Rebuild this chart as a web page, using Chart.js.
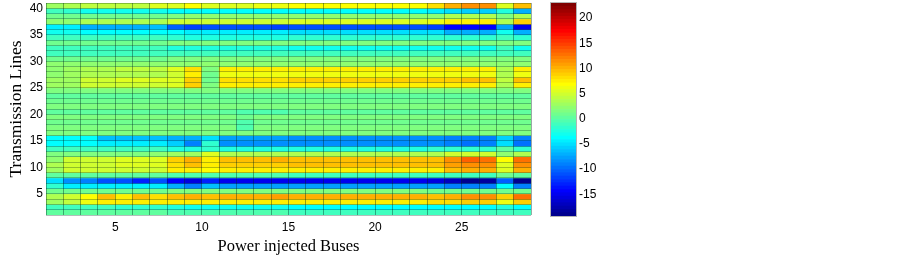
<!DOCTYPE html>
<html>
<head>
<meta charset="utf-8">
<script src="https://cdn.jsdelivr.net/npm/chart.js@4"></script>
<style>
html, body { margin: 0; background: #fff; }
#wrap { position: relative; width: 903px; height: 257px; overflow: hidden; }
canvas { position: absolute; top: 0; left: 0; filter: blur(0.4px); }
</style>
</head>
<body>
<div id="wrap">
<canvas id="heat" width="560" height="257"></canvas>
<canvas id="bar" width="343" height="257" style="left:540px"></canvas>
</div>
<script>
const buses = [1,2,3,4,5,6,7,8,9,10,11,12,13,14,15,16,17,18,19,20,21,22,23,24,25,26,27,28];
const lines = [40,39,38,37,36,35,34,33,32,31,30,29,28,27,26,25,24,23,22,21,20,19,18,17,16,15,14,13,12,11,10,9,8,7,6,5,4,3,2,1];
const busEdges = [1,2,3,4,5,6,7,8,9,10,11,12,13,14,15,16,17,18,19,20,21,22,23,24,25,26,27,28,29];
const lineEdges = [1,2,3,4,5,6,7,8,9,10,11,12,13,14,15,16,17,18,19,20,21,22,23,24,25,26,27,28,29,30,31,32,33,34,35,36,37,38,39,40,41];
const busTicks = [5,10,15,20,25];
const lineTicks = [5,10,15,20,25,30,35,40];
const barTicks = [-15,-10,-5,0,5,10,15,20];
const colorLimits = [-19.5, 22.8];

// one row per transmission line, top of the picture first, one value per bus
const cellValues = [
  [2.8,3,3.8,3.8,4,4,5,5,6.8,5,5,5,6,6, 6.5,6.5,6.5,6.5,6.5,6.5,6.5,6.5, 8,10,11,11,5,9],
  [-1.5,-2,-3,-3,-3,-3,-3,-3.8,-4,-4,-4,-4,-4,-4, -4,-4,-4,-4,-4,-4,-4,-4, -4.5,-5.5,-6,-6,-2.5,-7],
  [0.8,0.8,0.8,0.8,0.8,0.8,0.8,1.5,1.8,1.8,1.8,1.8,1.8,1.8, 2,2,2,2,2,2,2,2, 2,3,3,3,1.5,3],
  [2.3,2.3,3.3,3.3,3.3,3.3,3.3,4.5,4.5,4.5,4.5,4.5,4.5,4.5, 5.5,5.5,5.5,5.5,5.5,5.5,5.5,5.5, 6,7,7.5,7.5,3.5,8.5],
  [-4.5,-4.5,-7.5,-7.5,-7,-7,-6.5,-10.5,-12,-11,-11,-11,-11,-12, -11.5,-11.5,-11.5,-11.5,-11.5,-11.5,-11.5,-11.5, -12,-14.5,-14.5,-14.5,-8,-15],
  [-3,-3,-4,-4,-4,-4,-4,-4,-4.5,-4.5,-4.5,-4.5,-4.5,-4.5, -5,-5,-5,-5,-5,-5,-5,-5, -5.5,-7,-7,-7,-3.5,-7.5],
  [-1.5,-1.5,-1.5,-1.5,-1.5,-1.5,-1.5,-2,-2.5,-2.5,-2.5,-2.5,-2.5,-2.5, -2,-2,-2,-2,-2,-2,-2,-2, -2,-2,-2,-2,-1,-2],
  [0.8,0.8,0.8,0.8,0.8,0.8,0.8,1,1,1,1,1,1,1, 1,1,1,1,1,1,1,1, 1,1,1,1,1,1],
  [-1.5,-1.5,-1.5,-1.5,-1.5,-1.5,-1.5,-2.5,-2.5,-2.5,-2.5,-2.5,-2.5,-2.5, -3,-3,-3,-3,-3,-3,-3,-3, -3,-3,-3,-3,-1,-3],
  [-1,-1,-1,-1,-1,-1,-1,-1.5,-1.5,-1.5,-1.5,-1.5,-1.5,-1.5, -1.5,-1.5,-1.5,-1.5,-1.5,-1.5,-1.5,-1.5, -1.5,-1.5,-1.5,-1.5,-1,-1.5],
  [0.8,0.8,0.8,0.8,0.8,0.8,0.8,1,1,1,1,1,1,1, 1,1,1,1,1,1,1,1, 1,1,1,1,1,1],
  [1.8,1.8,1.8,1.8,1.8,1.8,1.8,2,2,2,2,2,2,2, 2,2,2,2,2,2,2,2, 2,2,2,2,1.8,2],
  [2.3,2.5,3.3,3.3,3.8,3.8,3.8,5,8,1.5,7.5,7.5,7.5,7.5, 7.5,7.5,7.5,7.5,7.5,7.5,7.5,7.5, 7.5,7.5,7.5,7.5,3.5,7.5],
  [2,2.5,3,3,3.5,3.5,3.5,4.5,7.5,0.8,6,6,6,6, 6,6,6,6,6,6,6,6, 6,6,6,6,3,6],
  [2.8,2.8,4.3,4.3,5,5,5,5.5,8.5,0.8,8,8,8,8, 8.5,8.5,8.5,8.5,8.5,8.5,8.5,8.5, 8.5,8.5,9,9,4,9.5],
  [2.5,2.5,4.5,4.5,4.5,4.5,4.5,5.5,8.5,1,7.5,7.5,7.5,7.5, 7.5,7.5,7.5,7.5,7.5,7.5,7.5,7.5, 7.5,7.5,7.5,7.5,3.5,7.5],
  [1.2,1.2,1.2,1.2,1.2,1.2,1.2,1.2,1.2,1.2,1.2,1.2,1.2,1.2, 1.2,1.2,1.2,1.2,1.2,1.2,1.2,1.2, 1.2,1.2,1.2,1.2,1,1.2],
  [0,0,0,0,0,0,0,0,0,0,0,0,0,0, 0,0,0,0,0,0,0,0, 0,0,0,0,0,0],
  [0.8,0.8,0.8,0.8,0.8,0.8,0.8,0.8,0.8,0.8,0.8,0.8,0.8,0.8, 0.8,0.8,0.8,0.8,0.8,0.8,0.8,0.8, 0.8,0.8,0.8,0.8,0.8,0.8],
  [1,1,1,1,1,1,1,1,1,1,1,1,1,1, 1,1,1,1,1,1,1,1, 1,1,1,1,1,1],
  [0.3,0.3,0.3,0.3,0.3,0.3,0.3,0.3,0.3,0.3,0.3,-0.5,-0.5,-0.5, 0,0,0,0,0,0,0,0, 0,0,0,0,0.3,0],
  [1,1,1,1,1,1,1,1,1,1,1,0.5,1,1, 1,1,1,1,1,1,1,1, 1,1,1,1,1,1],
  [0.8,0.8,0.8,0.8,0.8,0.8,0.8,0.8,0.8,0.8,0.8,-0.5,0.8,0.8, 0.8,0.8,0.8,0.8,0.8,0.8,0.8,0.8, 0.8,0.8,0.8,0.8,0.8,0.8],
  [1.5,1.5,1.5,1.5,1.5,1.5,1.5,1.5,1.5,1.5,1.5,-0.5,1.5,1.5, 1.5,1.5,1.5,1.5,1.5,1.5,1.5,1.5, 1.5,1.5,1.5,1.5,1.5,1.5],
  [1.5,1.5,1.5,1.5,1.5,1.5,1.5,1.5,1.5,1.5,1.5,1,1.5,1.5, 1.5,1.5,1.5,1.5,1.5,1.5,1.5,1.5, 1.5,1.5,1.5,1.5,1.5,1.5],
  [-3.8,-3.8,-3.8,-6.5,-6.5,-6.5,-6.5,-7.5,-7.5,-5.5,-8,-8,-8,-8, -8.5,-8.5,-8.5,-8.5,-8.5,-8.5,-8.5,-8.5, -8.5,-9,-9.5,-9,-6,-9.5],
  [-4,-4,-4,-4.5,-4.5,-4.5,-4.5,-6,-9,-2,-8.5,-8.5,-8.5,-8.5, -8.5,-8.5,-8.5,-8.5,-8.5,-8.5,-8.5,-8.5, -8.5,-9,-10,-9.5,-5,-10],
  [-1.5,-1.5,-1.5,-1.5,-1.5,-1.5,-1.5,-2.5,-2.5,-2,-2.5,-2.5,-2.5,-2.5, -2.5,-2.5,-2.5,-2.5,-2.5,-2.5,-2.5,-2.5, -2,-2,-2,-2,0,-2],
  [1,1.5,1.5,1.5,1.5,1.5,2,2.5,2.5,5.5,3,3,3,3, 3.5,3.5,3.5,3.5,3.5,3.5,3.5,3.5, 3.5,4.8,4.8,4.8,2,3.5],
  [2,4.3,4.3,4.3,5,5,5,8.5,10,7.5,9.5,9.5,9.5,10, 9.5,9.5,9.5,9.5,9.5,9.5,9.5,9.5, 9,11.5,13,12.5,6.8,12.5],
  [3,4.3,4.3,4.3,5.5,5.5,5.5,8,9,7.5,8.5,8.5,8.5,8.5, 9,9,9,9,9,9,9,9, 9,10.5,11,11,5.5,11],
  [2.5,4.3,4.3,4.3,4.8,4.8,4.8,7,7.5,6.5,7,7,7,7, 7.5,7.5,7.5,7.5,7.5,7.5,7.5,7.5, 7.5,9,10,10,5,10],
  [0,0,0,0,0,0,0,-0.5,-0.5,-0.5,-0.5,-0.5,-0.5,-0.5, -1,-1,-1,-1,-1,-1,-1,-1, -1,-1,-1,-1,0.5,0],
  [-5,-8.5,-9.5,-11.5,-11.5,-13,-11.5,-14.5,-16,-13,-15,-15.5,-15.5,-15.5, -15.5,-15.5,-15.5,-15.5,-15.5,-15.5,-15.5,-15.5, -16,-17,-19,-18.5,-10.5,-19],
  [-2,-4.5,-4.5,-4.5,-4.5,-4.5,-4.5,-7,-9,-6.5,-8,-8,-8,-8, -8,-8,-8,-8,-8,-8,-8,-8, -8,-9,-9,-9,-4,-9],
  [0.8,0.8,0.8,0.8,0.8,0.8,0.8,1,1,1,1,1,1,1, 1,1,1,1,1,1,1,1, 0.8,0.8,0.8,0.8,0.8,0.8],
  [3.5,4.3,6.5,9,7.5,9,8,9,10,9.5,10,10,10,10.5, 10,10,10,10,10,10,10,10, 9.5,10,11.5,11.5,8.5,12.5],
  [2.8,3.8,6,7,7,7,7,7.5,7.5,7.5,7.5,7.5,7.5,7.5, 7.5,7.5,7.5,7.5,7.5,7.5,7.5,7.5, 8,8,8.5,8.5,6,8.5],
  [-1.5,-1.5,-1.5,-1.5,-2,-2,-2,-2.5,-3.5,-3,-3,-3,-3,-3, -3.8,-3.8,-3.8,-3.8,-3.8,-3.8,-3.8,-3.8, -3.8,-4,-4,-4,-2.5,-3.8],
  [-0.3,-0.3,-0.3,-0.3,-0.3,-0.3,-0.3,-0.5,-0.5,-0.5,-0.5,-0.5,-0.5,-0.5, -1,-1,-1,-1,-1,-1,-1,-1, -1,-1,-1,-1,-1,-1]
];

const jet = [
  '#00008f','#00009f','#0000af','#0000bf','#0000cf','#0000df','#0000ef','#0000ff',
  '#0010ff','#0020ff','#0030ff','#0040ff','#0050ff','#0060ff','#0070ff','#0080ff',
  '#008fff','#009fff','#00afff','#00bfff','#00cfff','#00dfff','#00efff','#00ffff',
  '#10ffef','#20ffdf','#30ffcf','#40ffbf','#50ffaf','#60ff9f','#70ff8f','#80ff80',
  '#8fff70','#9fff60','#afff50','#bfff40','#cfff30','#dfff20','#efff10','#ffff00',
  '#ffef00','#ffdf00','#ffcf00','#ffbf00','#ffaf00','#ff9f00','#ff8f00','#ff8000',
  '#ff7000','#ff6000','#ff5000','#ff4000','#ff3000','#ff2000','#ff1000','#ff0000',
  '#ef0000','#df0000','#cf0000','#bf0000','#af0000','#9f0000','#8f0000','#800000'
];

const labelFont = { family: '"Liberation Sans", Arial, sans-serif', size: 12 };
const titleFont = { family: '"Liberation Serif", "Times New Roman", serif', size: 16.5 };
const yTitleFont = { family: '"Liberation Serif", "Times New Roman", serif', size: 17.5 };

function colorFor(v) {
    const span = colorLimits[1] - colorLimits[0];
    const i = Math.floor((v - colorLimits[0]) / span * jet.length);
    return jet[Math.max(0, Math.min(jet.length - 1, i))];
}

const heatDatasets = lines.map((line, r) => ({
    data: buses.map(bus => ({ x: bus + 0.5, y: [line, line + 1] })),
    backgroundColor: buses.map((bus, c) => colorFor(cellValues[r][c])),
    borderWidth: 0,
    barPercentage: 1,
    categoryPercentage: 1,
    grouped: false
}));

new Chart(document.getElementById('heat'), {
    type: 'bar',
    data: { datasets: heatDatasets },
    options: {
        responsive: false,
        animation: false,
        layout: { padding: { top: 3, right: 29, left: 0, bottom: 0 } },
        plugins: { legend: { display: false }, tooltip: { enabled: false } },
        scales: {
            x: {
                type: 'linear',
                min: 1,
                max: 29,
                offset: false,
                afterBuildTicks: s => { s.ticks = busEdges.map(v => ({ value: v })); },
                afterFit: s => { s.height = 42; s.paddingLeft = 0; s.paddingRight = 0; },
                grid: { offset: false, z: 1, color: 'rgba(0,40,30,0.4)', drawTicks: false },
                border: { display: false },
                ticks: {
                    autoSkip: false,
                    maxRotation: 0,
                    padding: 5,
                    color: '#000',
                    font: labelFont,
                    callback: v => busTicks.includes(v) ? String(v) : ''
                },
                title: { display: true, text: 'Power injected Buses', color: '#000', font: titleFont, padding: { top: 5, bottom: 0 } }
            },
            y: {
                type: 'linear',
                min: 1,
                max: 41,
                afterBuildTicks: s => { s.ticks = lineEdges.map(v => ({ value: v })); },
                afterFit: s => { s.width = 46; s.paddingTop = 0; s.paddingBottom = 0; },
                grid: { z: 1, color: 'rgba(0,40,30,0.3)', drawTicks: false },
                border: { display: false },
                ticks: {
                    autoSkip: false,
                    padding: 3,
                    color: '#000',
                    font: labelFont,
                    callback: v => lineTicks.includes(v) ? String(v) : ''
                },
                title: { display: true, text: 'Transmission Lines', color: '#000', font: yTitleFont, padding: { top: 6, bottom: 0 } }
            }
        }
    }
});

// colour bar, one floating bar per palette step
const step = (colorLimits[1] - colorLimits[0]) / jet.length;
const barDatasets = jet.map((c, i) => ({
    data: [[colorLimits[0] + i * step, colorLimits[0] + (i + 1) * step]],
    backgroundColor: c,
    borderWidth: 0,
    barPercentage: 1,
    categoryPercentage: 1,
    grouped: false
}));

new Chart(document.getElementById('bar'), {
    type: 'bar',
    data: { labels: [''], datasets: barDatasets },
    options: {
        responsive: false,
        animation: false,
        layout: { padding: { top: 3, left: 11, right: 0, bottom: 41 } },
        plugins: { legend: { display: false }, tooltip: { enabled: false } },
        scales: {
            x: { display: false, grid: { display: false } },
            y: {
                position: 'right',
                min: colorLimits[0],
                max: colorLimits[1],
                afterBuildTicks: s => { s.ticks = barTicks.map(v => ({ value: v })); },
                afterFit: s => { s.width = 307; s.paddingTop = 0; s.paddingBottom = 0; },
                grid: { display: false, drawTicks: false },
                border: { display: false },
                ticks: { autoSkip: false, padding: 3, labelOffset: 1, color: '#000', font: labelFont }
            }
        }
    },
    plugins: [{
        id: 'frame',
        afterDraw(chart) {
            const a = chart.chartArea;
            chart.ctx.strokeStyle = '#b5b5b5';
            chart.ctx.strokeRect(a.left - 0.5, a.top - 0.5, a.width + 1, a.height + 1);
        }
    }]
});
</script>
</body>
</html>
